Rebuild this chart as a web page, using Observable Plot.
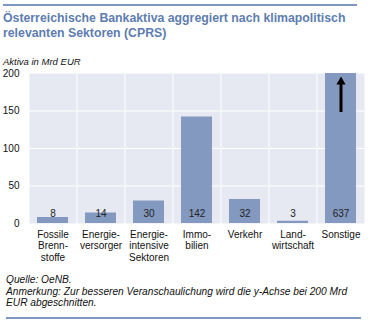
<!DOCTYPE html>
<html>
<head>
<meta charset="utf-8">
<script src="https://cdn.jsdelivr.net/npm/d3@7"></script>
<script src="https://cdn.jsdelivr.net/npm/@observablehq/plot@0.6"></script>
<style>
  body { margin: 0; background: #fff; font-family: "Liberation Sans", Arial, sans-serif; }
  #wrap { position: relative; width: 370px; height: 335px; }
  .line { position: absolute; height: 2px; background: #7e96c0; }
  #title { position: absolute; left: 3px; top: 11px; font-size: 12.3px; font-weight: bold; color: #5d7db0; line-height: 15px; }
  #sub { position: absolute; left: 3px; top: 56px; font-size: 9.5px; font-style: italic; color: #111; }
  #chart { position: absolute; left: 0; top: 62px; }
  #foot { position: absolute; left: 6px; top: 274px; font-size: 10.2px; font-style: italic; color: #111; line-height: 11.6px; }
</style>
</head>
<body>
<div id="wrap">
  <div class="line" style="left:3px; top:4px; width:354px;"></div>
  <div id="title">Österreichische Bankaktiva aggregiert nach klimapolitisch<br>relevanten Sektoren (CPRS)</div>
  <div id="sub">Aktiva in Mrd EUR</div>
  <div id="chart"></div>
  <div id="foot">Quelle: OeNB.<br>Anmerkung: Zur besseren Veranschaulichung wird die y-Achse bei 200 Mrd<br>EUR abgeschnitten.</div>
  <div class="line" style="left:6px; top:317px; width:355px;"></div>
</div>
<script>
const sektoren = ["Fossile Brennstoffe", "Energieversorger", "Energieintensive Sektoren", "Immobilien", "Verkehr", "Landwirtschaft", "Sonstige"];
const sektorLabels = ["Fossile\nBrenn-\nstoffe", "Energie-\nversorger", "Energie-\nintensive\nSektoren", "Immo-\nbilien", "Verkehr", "Land-\nwirtschaft", "Sonstige"];
const werte = [8, 14, 30, 142, 32, 3, 637];
const yTicks = [0, 50, 100, 150, 200];
const gridY = [50, 100, 150];
const yMax = 200;
const pfeil = [{sektor: "Sonstige", von: 148, bis: 189}];

const data = sektoren.map((s, i) => ({sektor: s, wert: werte[i]}));
const labelOf = new Map(sektoren.map((s, i) => [s, sektorLabels[i]]));

const chart = Plot.plot({
  width: 370,
  height: 210,
  marginLeft: 26,
  marginRight: 2,
  marginTop: 11,
  marginBottom: 49,
  style: {fontFamily: "Liberation Sans, Arial, sans-serif", fontSize: "10px", color: "#111", background: "transparent"},
  fx: {domain: sektoren, paddingInner: 0.02, paddingOuter: 0, label: null, axis: null},
  x: {domain: [0, 1], axis: null},
  y: {domain: [0, yMax], clamp: true, axis: null},
  marks: [
    Plot.frame({fill: "#e6e9f1", stroke: null}),
    Plot.ruleY(gridY, {stroke: "white", strokeWidth: 1}),
    Plot.barY(data, {fx: "sektor", y: "wert", fill: "#8499bf", insetLeft: 8, insetRight: 8}),
    Plot.text(data, {fx: "sektor", y: 0, text: d => String(d.wert), dy: -10, fill: "#222", fontSize: 10}),
    Plot.ruleX(pfeil, {fx: "sektor", x: 0.5, y1: "von", y2: "bis", stroke: "black", strokeWidth: 3}),
    Plot.dot(pfeil, {fx: "sektor", x: 0.5, y: "bis", symbol: "triangle", fill: "black", stroke: null, r: 3.4}),
    Plot.axisY(yTicks, {tickSize: 0, tickPadding: 10, label: null, fontSize: 10, facetAnchor: "left"}),
    Plot.axisFx({anchor: "bottom", tickSize: 0, tickPadding: 6, label: null, fontSize: 10, lineHeight: 1.15, tickFormat: s => labelOf.get(s), lineAnchor: "top"})
  ]
});
document.getElementById("chart").appendChild(chart);
</script>
</body>
</html>
